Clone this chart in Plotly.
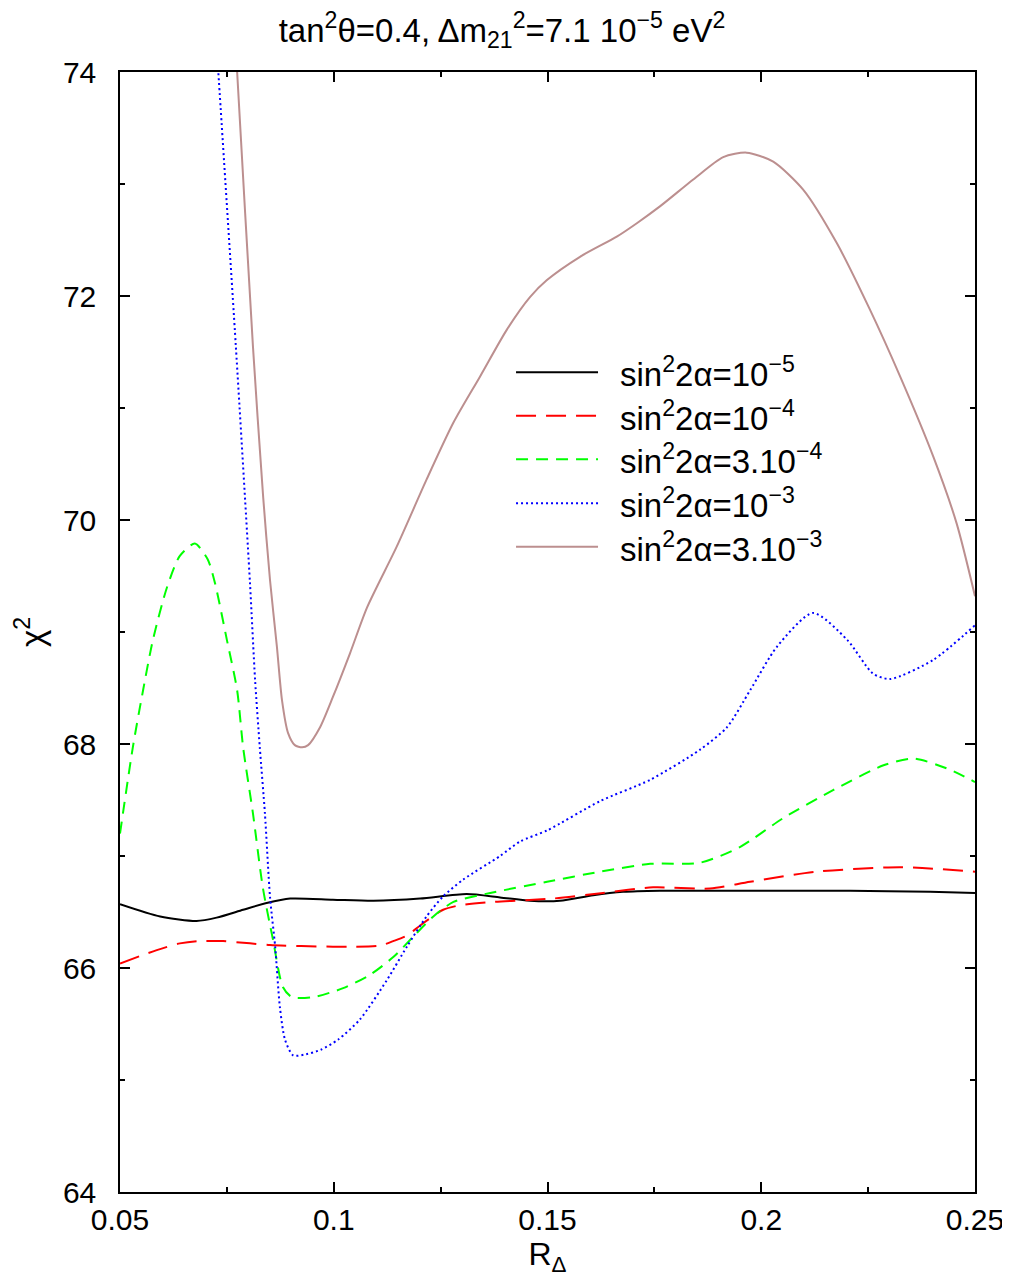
import plotly.graph_objects as go

# ---- data ----
x_a5 = [0.05, 0.0594, 0.0679, 0.0726, 0.0788, 0.0843, 0.0898, 0.0998, 0.1093, 0.1202,
        0.1311, 0.1389, 0.1459, 0.1529, 0.1607, 0.1677, 0.1763, 0.1974, 0.2208, 0.2395, 0.25]
y_a5 = [66.57, 66.46, 66.42, 66.45, 66.52, 66.58, 66.62, 66.61, 66.60, 66.62,
        66.66, 66.63, 66.60, 66.60, 66.65, 66.68, 66.69, 66.69, 66.69, 66.68, 66.67]

x_a4 = [0.05, 0.0586, 0.064, 0.068, 0.0741, 0.0804, 0.0851, 0.0998, 0.1038, 0.1108,
        0.1139, 0.1171, 0.1209, 0.1256, 0.1295, 0.1373, 0.1513, 0.163, 0.1747, 0.188,
        0.1974, 0.213, 0.2325, 0.25]
y_a4 = [66.04, 66.16, 66.22, 66.24, 66.24, 66.22, 66.205, 66.19, 66.19, 66.20,
        66.24, 66.29, 66.40, 66.52, 66.56, 66.59, 66.62, 66.67, 66.72, 66.71,
        66.77, 66.86, 66.90, 66.86]

x_3a4 = [0.05, 0.053, 0.0554, 0.0577, 0.061, 0.064, 0.0675, 0.0705, 0.0722, 0.075,
         0.0774, 0.0788, 0.0811, 0.0834, 0.0858, 0.0881, 0.0902, 0.0952, 0.1022, 0.1085,
         0.114, 0.1186, 0.1233, 0.128, 0.1366, 0.1499, 0.1623, 0.174, 0.1857, 0.195,
         0.2052, 0.2169, 0.2286, 0.2356, 0.2442, 0.25]
y_3a4 = [67.20, 67.97, 68.48, 68.93, 69.40, 69.68, 69.79, 69.65, 69.44, 68.93,
         68.48, 67.97, 67.38, 66.72, 66.25, 65.83, 65.74, 65.74, 65.82, 65.94,
         66.10, 66.28, 66.46, 66.59, 66.67, 66.77, 66.86, 66.93, 66.94, 67.08,
         67.34, 67.59, 67.81, 67.87, 67.77, 67.66]

x_a3 = [0.0725, 0.073, 0.0771, 0.0804, 0.0816, 0.0827, 0.0839, 0.0851, 0.0863, 0.0874,
        0.0886, 0.0905, 0.0935, 0.097, 0.101, 0.1061, 0.1124, 0.1171, 0.1217, 0.1256,
        0.1303, 0.1389, 0.1436, 0.15, 0.1623, 0.174, 0.1857, 0.192, 0.1974, 0.2037,
        0.2121, 0.2201, 0.2261, 0.2301, 0.2402, 0.25]
y_a3 = [74.3, 74.0, 71.55, 69.44, 68.57, 67.97, 67.38, 66.63, 66.19, 65.65,
        65.36, 65.22, 65.23, 65.27, 65.36, 65.54, 65.89, 66.19, 66.46, 66.64,
        66.79, 67.00, 67.13, 67.23, 67.49, 67.68, 67.95, 68.15, 68.48, 68.87,
        69.17, 68.93, 68.63, 68.58, 68.75, 69.06]

x_3a3 = [0.0769, 0.0774, 0.0811, 0.0835, 0.0851, 0.0867, 0.0879, 0.0893, 0.0909, 0.0926,
         0.094, 0.0968, 0.0998, 0.1038, 0.1078, 0.1147, 0.1217, 0.128, 0.1342, 0.1405,
         0.1459, 0.1498, 0.1576, 0.1662, 0.1709, 0.1763, 0.1841, 0.1911, 0.1966, 0.2028,
         0.2098, 0.2177, 0.2254, 0.2325, 0.2402, 0.2457, 0.25]
y_3a3 = [74.35, 74.0, 71.55, 70.2, 69.46, 68.87, 68.39, 68.10, 67.99, 67.97,
         67.99, 68.15, 68.42, 68.81, 69.22, 69.76, 70.36, 70.87, 71.28, 71.70,
         71.99, 72.14, 72.35, 72.53, 72.65, 72.80, 73.04, 73.24, 73.28, 73.20,
         72.95, 72.47, 71.88, 71.28, 70.57, 69.97, 69.32]

labels = ["sin<sup>2</sup>2α=10<sup>−5</sup>",
          "sin<sup>2</sup>2α=10<sup>−4</sup>",
          "sin<sup>2</sup>2α=3.10<sup>−4</sup>",
          "sin<sup>2</sup>2α=10<sup>−3</sup>",
          "sin<sup>2</sup>2α=3.10<sup>−3</sup>"]
colors = ["#000000", "#ff0000", "#00ff00", "#0000ff", "#bc8f8f"]
dashes = ["solid", "20px,10px", "12px,8px", "2px,3px", "solid"]
widths = [2, 2, 2, 2, 2]

series = [(x_a5, y_a5), (x_a4, y_a4), (x_3a4, y_3a4), (x_a3, y_a3), (x_3a3, y_3a3)]

FONT = "Liberation Sans, Arial, Helvetica, sans-serif"

fig = go.Figure()
for (xs, ys), lab, c, d, w in zip(series, labels, colors, dashes, widths):
    fig.add_trace(go.Scatter(x=xs, y=ys, mode="lines", name=lab,
                             line=dict(color=c, dash=d, width=w, shape="spline", smoothing=0.7),
                             showlegend=False))

# legend drawn in paper coordinates
leg_x0, leg_x1, leg_tx = 0.4632, 0.5591, 0.5825
leg_y = [0.7319, 0.6931, 0.6542, 0.6149, 0.5762]
for lab, c, d, w, yy in zip(labels, colors, dashes, widths, leg_y):
    fig.add_shape(type="line", xref="paper", yref="paper", x0=leg_x0, x1=leg_x1,
                  y0=yy, y1=yy, line=dict(color=c, dash=d, width=w))
    fig.add_annotation(xref="paper", yref="paper", x=leg_tx, y=yy, text=lab,
                       showarrow=False, xanchor="left", yanchor="middle",
                       font=dict(family=FONT, size=33, color="black"))

axis_common = dict(showline=True, linecolor="black", linewidth=1.5, mirror="ticks",
                   ticks="inside", ticklen=10, tickwidth=1.5, tickcolor="black",
                   showgrid=False, zeroline=False,
                   tickfont=dict(family=FONT, size=30, color="black"))

fig.update_xaxes(range=[0.05, 0.25], dtick=0.05, tick0=0.05,
                 minor=dict(dtick=0.025, ticks="inside", ticklen=5, tickcolor="black", tickwidth=1.5),
                 title=dict(text="R<sub>Δ</sub>", font=dict(family=FONT, size=32, color="black"), standoff=8),
                 ticklabelstandoff=0, **axis_common)
fig.update_yaxes(range=[64, 74], dtick=2, tick0=64,
                 minor=dict(dtick=1, ticks="inside", ticklen=5, tickcolor="black", tickwidth=1.5),
                 title=dict(text="χ<sup>2</sup>", font=dict(family=FONT, size=33, color="black"), standoff=8),
                 ticklabelstandoff=16, **axis_common)

fig.update_layout(
    width=1002, height=1278,
    margin=dict(l=112, r=35, t=64, b=94, autoexpand=False),
    paper_bgcolor="white", plot_bgcolor="white",
    title=dict(text="tan<sup>2</sup>θ=0.4, Δm<sub>21</sub><sup>2</sup>=7.1 10<sup>−5</sup> eV<sup>2</sup>",
               x=0.493, xref="container", xanchor="center",
               y=1 - 22 / 1278, yref="container", yanchor="middle",
               font=dict(family=FONT, size=33, color="black")),
)

fig.write_html("out.html")
